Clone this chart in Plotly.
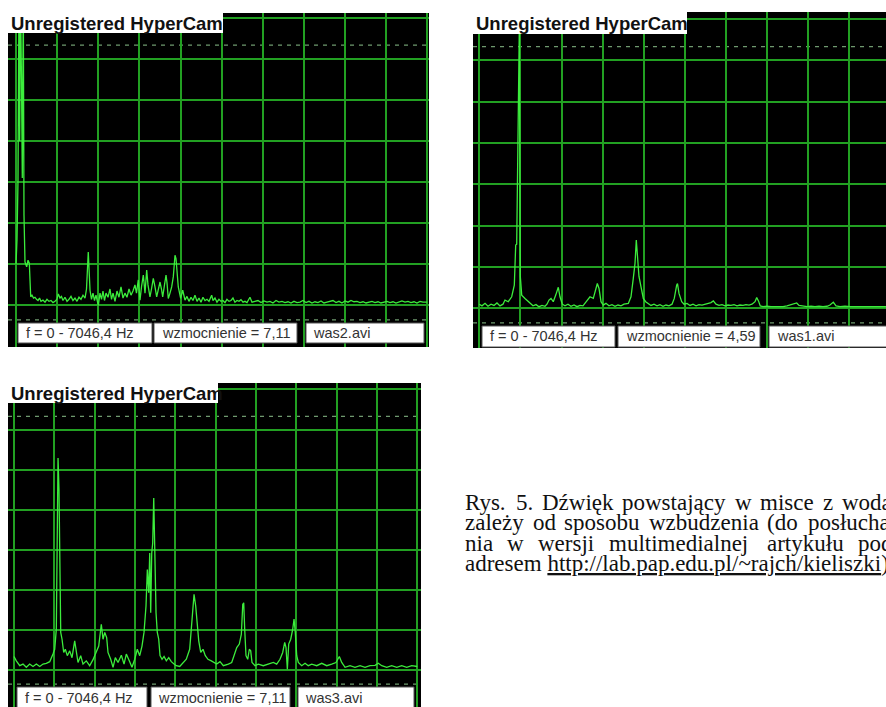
import plotly.graph_objects as go

W, H = 886, 707

# ---------------- data ----------------
# amplitude is in screen divisions of the analyser, frequency in Hz (full span 0 - 7046,4 Hz)
freq_was2 = [0, 17, 34, 51, 63, 77, 94, 108, 125, 137, 154, 183, 206, 228, 252, 274, 300, 325, 351, 377,
             403, 428, 462, 497, 531, 565, 600, 634, 668, 702, 725, 754, 779, 805, 839, 874, 908, 942, 976, 1011,
             1045, 1079, 1113, 1148, 1182, 1208, 1238, 1250, 1268, 1293, 1319, 1345, 1370, 1410, 1439, 1465, 1490, 1516, 1542, 1576,
             1610, 1636, 1662, 1696, 1730, 1764, 1799, 1833, 1867, 1901, 1936, 1970, 2004, 2038, 2064, 2095, 2124, 2150, 2181, 2210,
             2239, 2261, 2295, 2321, 2352, 2381, 2410, 2432, 2467, 2492, 2513, 2544, 2570, 2587, 2609, 2638, 2667, 2695, 2724, 2741,
             2758, 2780, 2821, 2856, 2895, 2929, 2963, 2998, 3032, 3066, 3101, 3135, 3169, 3203, 3238, 3272, 3306, 3352, 3375, 3409,
             3443, 3477, 3512, 3546, 3580, 3614, 3649, 3683, 3717, 3751, 3786, 3820, 3854, 3889, 3923, 3957, 4008, 4043, 4094, 4145,
             4197, 4248, 4300, 4351, 4402, 4454, 4505, 4557, 4608, 4659, 4711, 4762, 4814, 4865, 4916, 4968, 5019, 5070, 5122, 5173,
             5225, 5276, 5327, 5379, 5430, 5482, 5533, 5584, 5636, 5687, 5739, 5790, 5841, 5893, 5944, 5996, 6047, 6098, 6150, 6201,
             6252, 6304, 6355, 6407, 6458, 6509, 6561, 6612, 6664, 6715, 6766, 6818, 6869, 6921, 6972, 7023, 7046]
amp_was2 = [1.0, 1.6, 3.0, 7.5, 4.0, 7.5, 5.5, 3.1, 7.5, 2.2, 1.06, 0.94, 1.1, 1.03, 0.21, 0.25, 0.18, 0.2, 0.15, 0.12,
            0.18, 0.1, 0.13, 0.08, 0.15, 0.1, 0.12, 0.07, 0.1, 0.15, 0.28, 0.18, 0.22, 0.12, 0.2, 0.1, 0.15, 0.22, 0.12, 0.18,
            0.1, 0.2, 0.15, 0.25, 0.18, 0.4, 1.30, 0.9, 0.37, 0.15, 0.3, 0.12, 0.25, 0.0, 0.3, 0.15, 0.35, 0.12, 0.3, 0.2,
            0.4, 0.15, 0.3, 0.1, 0.35, 0.2, 0.45, 0.18, 0.3, 0.2, 0.4, 0.25, 0.35, 0.5, 0.3, 0.62, 0.13, 0.45, 0.74, 0.3,
            0.86, 0.5, 0.21, 0.4, 0.66, 0.45, 0.21, 0.35, 0.57, 0.4, 0.21, 0.5, 0.74, 0.55, 0.17, 0.3, 0.45, 0.7, 1.22, 1.14,
            0.8, 0.45, 0.17, 0.37, 0.13, 0.22, 0.1, 0.2, 0.12, 0.25, 0.1, 0.18, 0.08, 0.2, 0.12, 0.15, 0.1, 0.25, 0.12, 0.18,
            0.08, 0.15, 0.1, 0.12, 0.07, 0.15, 0.1, 0.12, 0.18, 0.08, 0.12, 0.1, 0.14, 0.08, 0.1, 0.07, 0.2, 0.08, 0.1, 0.12,
            0.07, 0.11, 0.08, 0.1, 0.06, 0.12, 0.08, 0.1, 0.07, 0.09, 0.06, 0.1, 0.07, 0.08, 0.12, 0.07, 0.1, 0.06, 0.09, 0.07,
            0.11, 0.06, 0.08, 0.1, 0.12, 0.07, 0.1, 0.06, 0.11, 0.08, 0.12, 0.09, 0.1, 0.07, 0.09, 0.06, 0.08, 0.1, 0.07, 0.09,
            0.06, 0.08, 0.1, 0.07, 0.09, 0.06, 0.08, 0.11, 0.08, 0.1, 0.07, 0.09, 0.06, 0.1, 0.08, 0.09, 0.08]

freq_was1 = [0, 46, 98, 149, 201, 252, 303, 355, 406, 440, 497, 555, 600, 624, 641, 658, 668, 686, 703, 727,
             783, 826, 869, 920, 972, 1023, 1075, 1126, 1160, 1195, 1229, 1268, 1310, 1354, 1383, 1423, 1469, 1520, 1572, 1623,
             1675, 1726, 1777, 1812, 1855, 1897, 1954, 1983, 2023, 2052, 2086, 2125, 2171, 2223, 2274, 2326, 2377, 2429, 2480, 2554,
             2600, 2640, 2669, 2691, 2715, 2737, 2772, 2811, 2852, 2891, 2943, 2994, 3046, 3097, 3149, 3200, 3251, 3303, 3342, 3383,
             3397, 3423, 3469, 3509, 3560, 3612, 3663, 3715, 3766, 3817, 3869, 3920, 3971, 4011, 4057, 4108, 4160, 4211, 4263, 4314,
             4366, 4417, 4468, 4520, 4571, 4623, 4674, 4726, 4755, 4785, 4816, 4863, 4931, 5000, 5069, 5137, 5206, 5274, 5326, 5377,
             5440, 5480, 5549, 5617, 5686, 5754, 5823, 5891, 5960, 6011, 6068, 6114, 6183, 6268, 6354, 6440, 6526, 6611, 6697, 6783,
             6869, 6971, 7046]
amp_was1 = [0.1, 0.06, 0.12, 0.05, 0.1, 0.07, 0.13, 0.06, 0.1, 0.2, 0.16, 0.28, 0.56, 1.53, 1.55, 4.24, 5.04, 6.8, 0.77, 0.32,
            0.24, 0.18, 0.12, 0.06, 0.09, 0.04, 0.07, 0.05, 0.1, 0.2, 0.24, 0.16, 0.32, 0.51, 0.28, 0.1, 0.06, 0.1, 0.05, 0.08,
            0.04, 0.07, 0.06, 0.12, 0.2, 0.28, 0.24, 0.4, 0.6, 0.48, 0.16, 0.08, 0.12, 0.06, 0.09, 0.05, 0.08, 0.06, 0.1, 0.12,
            0.28, 0.73, 1.09, 1.65, 1.29, 0.77, 0.52, 0.24, 0.16, 0.12, 0.07, 0.1, 0.06, 0.09, 0.05, 0.08, 0.06, 0.1, 0.24, 0.56,
            0.6, 0.36, 0.16, 0.1, 0.12, 0.07, 0.1, 0.06, 0.09, 0.08, 0.1, 0.12, 0.14, 0.18, 0.1, 0.07, 0.09, 0.06, 0.08, 0.07,
            0.09, 0.06, 0.08, 0.07, 0.09, 0.08, 0.1, 0.16, 0.26, 0.18, 0.06, 0.04, 0.05, 0.04, 0.04, 0.05, 0.04, 0.06, 0.08, 0.1,
            0.13, 0.07, 0.05, 0.04, 0.05, 0.04, 0.05, 0.04, 0.05, 0.08, 0.15, 0.06, 0.04, 0.05, 0.04, 0.04, 0.05, 0.04, 0.04, 0.05,
            0.04, 0.04, 0.04]

freq_was3 = [0, 40, 100, 157, 215, 274, 332, 390, 449, 507, 564, 624, 681, 711, 739, 769, 786, 798, 816, 839,
             868, 896, 931, 973, 1013, 1060, 1088, 1118, 1165, 1205, 1263, 1322, 1380, 1438, 1480, 1525, 1555, 1585, 1619, 1642,
             1689, 1730, 1770, 1817, 1875, 1922, 1962, 2021, 2061, 2109, 2154, 2196, 2236, 2271, 2306, 2329, 2353, 2371, 2388, 2406,
             2423, 2441, 2458, 2481, 2503, 2528, 2551, 2586, 2621, 2661, 2703, 2748, 2795, 2835, 2895, 2952, 3010, 3069, 3110, 3145,
             3174, 3202, 3227, 3262, 3302, 3342, 3389, 3447, 3506, 3541, 3599, 3657, 3744, 3803, 3843, 3891, 3936, 3971, 3996, 4013,
             4030, 4053, 4083, 4111, 4135, 4158, 4210, 4268, 4355, 4443, 4530, 4589, 4647, 4694, 4729, 4752, 4775, 4799, 4834, 4869,
             4892, 4914, 4939, 4967, 5026, 5084, 5141, 5201, 5288, 5376, 5463, 5550, 5625, 5683, 5725, 5783, 5870, 5957, 6045, 6132,
             6219, 6307, 6364, 6424, 6511, 6598, 6686, 6773, 6860, 6948, 7035, 7046]
amp_was3 = [0.34, 0.23, 0.11, 0.15, 0.07, 0.15, 0.09, 0.15, 0.09, 0.15, 0.17, 0.21, 0.4, 0.52, 1.02, 5.29, 4.5, 2.1, 0.94, 0.77,
            0.44, 0.52, 0.36, 0.48, 0.31, 0.73, 0.44, 0.19, 0.36, 0.15, 0.23, 0.11, 0.26, 0.44, 0.6, 1.14, 0.77, 0.94, 0.81, 0.44,
            0.27, 0.07, 0.31, 0.19, 0.37, 0.15, 0.4, 0.21, 0.07, 0.27, 0.52, 0.36, 0.6, 0.94, 1.6, 2.51, 1.93, 2.92, 1.43, 2.92,
            3.17, 4.29, 2.92, 1.43, 0.94, 0.77, 0.36, 0.27, 0.34, 0.23, 0.31, 0.21, 0.15, 0.11, 0.09, 0.19, 0.27, 0.52, 1.27, 1.89,
            1.6, 1.1, 0.73, 0.44, 0.52, 0.36, 0.27, 0.23, 0.19, 0.15, 0.21, 0.11, 0.15, 0.19, 0.36, 0.56, 0.65, 0.89, 1.64, 1.68,
            1.02, 0.36, 0.27, 0.52, 0.48, 0.19, 0.11, 0.15, 0.11, 0.15, 0.19, 0.15, 0.27, 0.44, 0.69, 0.56, 0.02, 0.65, 0.77, 1.02,
            1.27, 0.94, 0.36, 0.19, 0.11, 0.17, 0.11, 0.15, 0.11, 0.17, 0.11, 0.15, 0.19, 0.34, 0.19, 0.07, 0.11, 0.07, 0.11, 0.07,
            0.11, 0.12, 0.17, 0.11, 0.07, 0.11, 0.07, 0.11, 0.07, 0.11, 0.09, 0.09]

range_label = "f = 0 - 7046,4 Hz"
gain_was2 = "wzmocnienie = 7,11"
gain_was1 = "wzmocnienie = 4,59"
gain_was3 = "wzmocnienie = 7,11"
file_labels = ["was2.avi", "was1.avi", "was3.avi"]
watermark = "Unregistered HyperCam"
# caption, justified text: one word list per line
caption_line1 = ["Rys.", "5.", "Dźwięk", "powstający", "w", "misce", "z", "wodą"]
caption_line2 = ["zależy", "od", "sposobu", "wzbudzenia", "(do", "posłucha-"]
caption_line3 = ["nia", "w", "wersji", "multimedialnej", "artykułu", "pod"]
caption_line4 = ["adresem <u>http://lab.pap.edu.pl/~rajch/kieliszki</u>)"]

FULL_SPAN = 7046.4
DIV = FULL_SPAN / 10

# ---------------- styling / layout ----------------
GRID = "#22a022"
TRACE = "#3cec3c"
DASH = "#6f9a6f"


def fx(p):
    return p / W


def fy(p):
    return 1 - p / H


panels = [
    dict(f=freq_was2, a=amp_was2, box=(8, 13, 429, 347), xr=(-137, 7075), yr=(-1.01, 7.11),
         title_box=(8, 13, 223, 33), tboxes=[(18, 152), (154, 297), (306, 424)], tb_y=(323, 343),
         texts=[range_label, gain_was2, file_labels[0]], tx=[24, 160, 311]),
    dict(f=freq_was1, a=amp_was1, box=(473, 12, 886, 348), xr=(-108, 6971), yr=(-0.96, 7.17),
         title_box=(473, 12, 687, 34), tboxes=[(482, 615), (618, 760), (769, 892)], tb_y=(326, 347),
         texts=[range_label, gain_was1, file_labels[1]], tx=[488, 624, 775]),
    dict(f=freq_was3, a=amp_was3, box=(8, 383, 421, 708), xr=(-105, 7110), yr=(-0.92, 7.16),
         title_box=(8, 383, 218, 403), tboxes=[(17, 147), (151, 290), (298, 414)], tb_y=(687, 708),
         texts=[range_label, gain_was3, file_labels[2]], tx=[23, 156, 303]),
]

fig = go.Figure()
shapes = []
annotations = []
layout_axes = {}

for i, p in enumerate(panels, start=1):
    xa = "x" if i == 1 else f"x{i}"
    ya = "y" if i == 1 else f"y{i}"
    fig.add_trace(go.Scatter(x=p["f"], y=p["a"], mode="lines", xaxis=xa, yaxis=ya,
                             line=dict(color=TRACE, width=1.3), hoverinfo="skip", showlegend=False))
    x0, y0, x1, y1 = p["box"]
    axkw = dict(showgrid=True, gridcolor=GRID, gridwidth=1.6, zeroline=True, zerolinecolor=GRID,
                zerolinewidth=1.6, showticklabels=False, ticks="", showline=False, fixedrange=True)
    layout_axes["xaxis" if i == 1 else f"xaxis{i}"] = dict(
        domain=[fx(x0), min(1.0, fx(x1))], range=list(p["xr"]), tick0=0, dtick=DIV,
        anchor=ya, **axkw)
    layout_axes["yaxis" if i == 1 else f"yaxis{i}"] = dict(
        domain=[max(0.0, fy(y1)), fy(y0)], range=list(p["yr"]), tick0=0, dtick=1,
        anchor=xa, **axkw)
    # dashed reference lines
    for yv in (6.33, -0.35):
        shapes.append(dict(type="line", xref=f"{xa} domain", x0=0, x1=1, yref=ya, y0=yv, y1=yv,
                           line=dict(color=DASH, width=1.2, dash="4px,5px"), layer="below"))
    # watermark box
    bx0, by0, bx1, by1 = p["title_box"]
    shapes.append(dict(type="rect", xref="paper", yref="paper", x0=fx(bx0), x1=fx(bx1),
                       y0=fy(by1), y1=fy(by0), fillcolor="white", line=dict(width=0), layer="above"))
    annotations.append(dict(x=fx(bx0 + 1), y=fy((by0 + by1) / 2), xref="paper", yref="paper",
                            xanchor="left", yanchor="middle", showarrow=False, text=f"<b>{watermark}</b>",
                            font=dict(family="Liberation Sans, Arial", size=18.5, color="#111")))
    # status boxes
    ty0, ty1 = p["tb_y"]
    for (sx0, sx1), txt, tx in zip(p["tboxes"], p["texts"], p["tx"]):
        shapes.append(dict(type="rect", xref="paper", yref="paper", x0=fx(sx0), x1=fx(sx1),
                           y0=fy(ty1), y1=fy(ty0), fillcolor="white",
                           line=dict(color="#555", width=1), layer="above"))
        annotations.append(dict(x=fx(tx), y=fy((ty0 + ty1) / 2), xref="paper", yref="paper",
                                xanchor="left", yanchor="middle", showarrow=False, text=txt,
                                font=dict(family="Liberation Sans, Arial", size=14.5, color="#333")))

# caption (justified block whose right edge lies just past the page edge)
CAP_FONT = dict(family="Liberation Serif, Times New Roman", size=23, color="#111")
caption_layout = [
    (caption_line1, 502, [463, 513.5, 539.8, 620.3, 732.8, 758.4, 821.1, 840.3]),
    (caption_line2, 522.5, [463, 530.5, 562.3, 646.5, 765.1, 805.8]),
    (caption_line3, 543, [463, 505.3, 536.1, 606.5, 764.6, 855.5]),
    (caption_line4, 563, [463]),
]
for words, yv, xs in caption_layout:
    for word, wx in zip(words, xs):
        annotations.append(dict(x=fx(wx), y=fy(yv), xref="paper", yref="paper", xanchor="left",
                                yanchor="middle", showarrow=False, text=word, font=CAP_FONT))

fig.update_layout(
    width=W, height=H, margin=dict(l=0, r=0, t=0, b=0),
    paper_bgcolor="white", plot_bgcolor="black",
    shapes=shapes, annotations=annotations, showlegend=False,
    **layout_axes,
)

fig.write_html("out.html", config={"displayModeBar": False},
               post_script="document.body.style.margin='0px';")
